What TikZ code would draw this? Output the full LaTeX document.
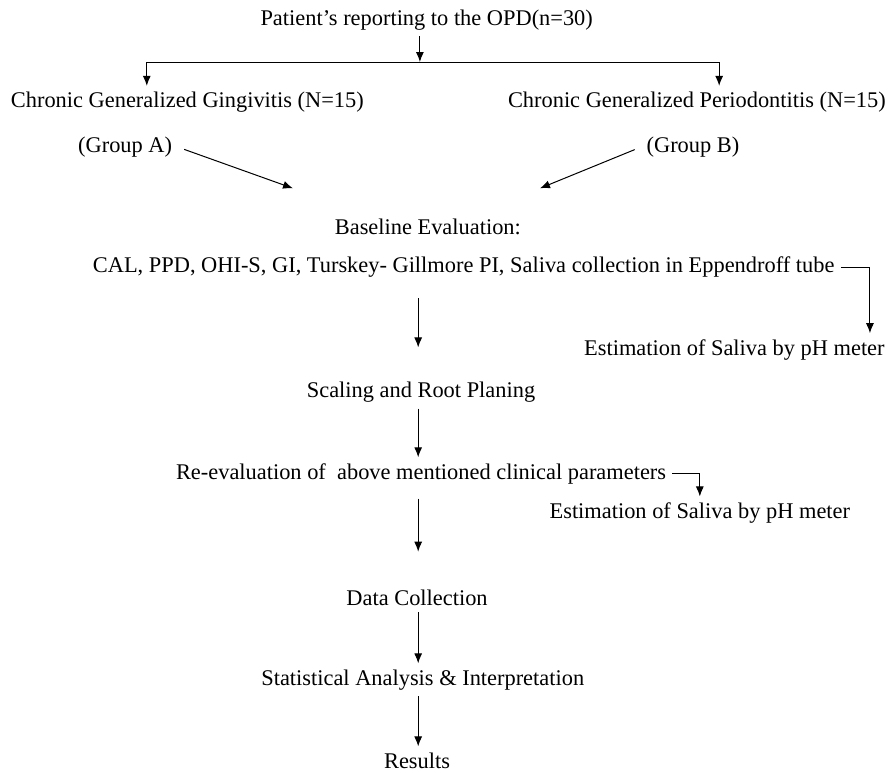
\documentclass[tikz,border=0pt]{standalone}
\usepackage{fontspec}
\setmainfont{Liberation Serif}
\usepackage{tikz}
\usetikzlibrary{arrows.meta}
\tikzset{
  >={Latex[length=5pt,width=4pt]},
  txt/.style={font=\fontsize{11.2}{13}\selectfont, inner sep=3pt},
  flow/.style={->, line width=0.5pt}
}

\begin{document}
\begin{tikzpicture}
    \useasboundingbox (0,0) rectangle (15.66,13.57);

    % Patients and the two groups
    \node[txt] (title) at (7.50,13.22) {Patient’s reporting to the OPD(n=30)};
    \node[txt, anchor=west] (ging) at (0.08,11.77) {Chronic Generalized Gingivitis (N=15)};
    \node[txt, anchor=east] (perio) at (15.68,11.77) {Chronic Generalized Periodontitis (N=15)};
    \node[txt] (grpA) at (2.20,10.98) {(Group A)};
    \node[txt] (grpB) at (12.18,10.98) {(Group B)};

    \coordinate (split) at (7.38,12.48);
    \coordinate (splitL) at (2.58,12.48);
    \coordinate (splitR) at (12.64,12.48);
    \draw[line width=0.5pt] (splitL) -- (splitR);
    \draw[flow] (title.south -| split) -- (split);
    \draw[flow] (splitL) -- (splitL |- ging.north);
    \draw[flow] (splitR) -- (splitR |- perio.north);

    % Merge into baseline
    \coordinate (mergeA) at (5.15,10.26);
    \coordinate (mergeB) at (9.49,10.26);
    \draw[flow, shorten <=3pt] (grpA.east) -- (mergeA);
    \draw[flow, shorten <=3pt] (grpB.west) -- (mergeB);

    % Baseline evaluation
    \node[txt] (base) at (7.52,9.58) {Baseline Evaluation:};
    \node[txt] (cal) at (8.15,8.87) {CAL, PPD, OHI-S, GI, Turskey- Gillmore PI, Saliva collection in Eppendroff tube};
    \node[txt, anchor=east] (est1) at (15.66,7.42) {Estimation of Saliva by pH meter};
    \coordinate (bend1) at (15.29,8.87);
    \draw[flow] (cal.east) -- (bend1) -- (bend1 |- est1.north);

    % Treatment and re-evaluation
    \node[txt] (scal) at (7.40,6.68) {Scaling and Root Planing};
    \node[txt] (reeval) at (7.40,5.24) {Re-evaluation of~ above mentioned clinical parameters};
    \node[txt] (est2) at (12.30,4.55) {Estimation of Saliva by pH meter};
    \coordinate (axis) at (7.35,0);
    \draw[flow, shorten <=7pt, shorten >=14pt] (cal.south -| axis) -- (scal.north -| axis);
    \draw[flow] (scal.south -| axis) -- (reeval.north -| axis);
    \draw[flow] (reeval.east) -| (est2.north);

    % Analysis
    \node[txt] (data) at (7.33,3.06) {Data Collection};
    \node[txt] (stat) at (7.43,1.62) {Statistical Analysis \& Interpretation};
    \node[txt] (res) at (7.33,0.20) {Results};
    \draw[flow, shorten <=4pt, shorten >=16pt] (reeval.south -| axis) -- (data.north -| axis);
    \draw[flow] (data.south -| axis) -- (stat.north -| axis);
    \draw[flow] (stat.south -| axis) -- (res.north -| axis);
\end{tikzpicture}
\end{document}
